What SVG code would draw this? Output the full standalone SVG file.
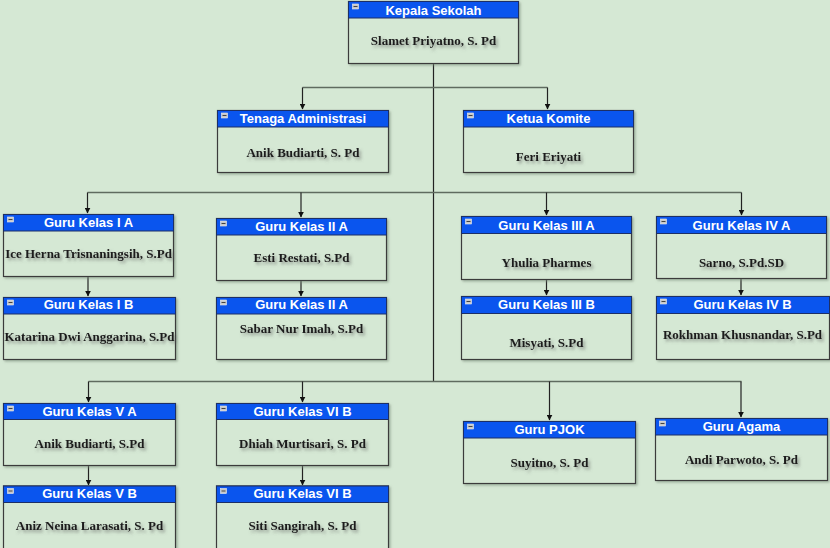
<svg xmlns="http://www.w3.org/2000/svg" width="830" height="548" viewBox="0 0 830 548">
<defs>
<style>
.box{fill:#d5e8d4;stroke:#3a3a3a;stroke-width:1.2;filter:url(#bs)}
.hd{fill:#0a55ee;stroke:#1c2f66;stroke-width:1}
.ic{fill:#c8c8c8;stroke:#eeeeee;stroke-width:0.6}
.icl{stroke:#444;stroke-width:1}
.t{font-family:"Liberation Sans",Arial,sans-serif;font-weight:bold;font-size:13px;fill:#ffffff;text-anchor:middle}
.b{font-family:"Liberation Serif","Times New Roman",serif;font-weight:bold;font-size:13px;fill:#1a1a1a;text-anchor:middle;filter:url(#ts)}
.bus{fill:none;stroke:#5f6b5f;stroke-width:1.3}
.ln{fill:none;stroke:#222;stroke-width:1.2}
.ar{fill:none;stroke:#222;stroke-width:1.2;marker-end:url(#arr)}
</style>
<marker id="arr" viewBox="0 0 10 10" refX="9" refY="5" markerWidth="6" markerHeight="6" markerUnits="userSpaceOnUse" orient="auto">
<path d="M0,0 L10,5 L0,10 z" fill="#111"/>
</marker>
<filter id="bs" x="-5%" y="-5%" width="115%" height="120%">
<feDropShadow dx="1.5" dy="1.5" stdDeviation="1" flood-color="#7a8a7a" flood-opacity="0.6"/>
</filter>
<filter id="ts" x="-10%" y="-40%" width="125%" height="190%">
<feDropShadow dx="2" dy="2.5" stdDeviation="1.5" flood-color="#555" flood-opacity="0.55"/>
</filter>
</defs>
<rect width="830" height="548" fill="#d5e8d4"/>

<g id="connectors">
<path class="ln" d="M433.5 63 V381.5"/>
<path class="bus" d="M302.5 87.5 H547.5"/>
<path class="ar" d="M302.5 87.5 V109"/>
<path class="ar" d="M547.5 87.5 V109"/>
<path class="bus" d="M87.5 192.5 H741.5"/>
<path class="ar" d="M87.5 192.5 V213"/>
<path class="ar" d="M301 192.5 V217"/>
<path class="ar" d="M546.5 192.5 V215"/>
<path class="ar" d="M741.5 192.5 V215"/>
<path class="bus" d="M88.5 381.5 H741.5"/>
<path class="ar" d="M88.5 381.5 V402"/>
<path class="ar" d="M302.5 381.5 V402"/>
<path class="ar" d="M549.5 381.5 V420"/>
<path class="ar" d="M741 381.5 V417"/>
<path class="ar" d="M88 276 V296"/>
<path class="ar" d="M301 280 V296"/>
<path class="ar" d="M546.5 279 V295"/>
<path class="ar" d="M741 278 V295"/>
<path class="ar" d="M88.5 465 V485"/>
<path class="ar" d="M302.5 465 V485"/>
</g>

<g id="kepala">
<rect class="box" x="348.5" y="1.5" width="170" height="62"/>
<rect class="hd" x="348.5" y="1.5" width="170" height="16.5"/>
<rect class="ic" x="352.5" y="4" width="6" height="5"/><path class="icl" d="M353.5 6.5 H357.5"/>
<text class="t" x="433.5" y="14.5">Kepala Sekolah</text>
<text class="b" x="433.5" y="44.5">Slamet Priyatno, S. Pd</text>
</g>

<g id="tenaga">
<rect class="box" x="217.5" y="110.5" width="171" height="62"/>
<rect class="hd" x="217.5" y="110.5" width="171" height="16.5"/>
<rect class="ic" x="221.5" y="113" width="6" height="5"/><path class="icl" d="M222.5 115.5 H226.5"/>
<text class="t" x="303" y="123">Tenaga Administrasi</text>
<text class="b" x="303" y="156.5">Anik Budiarti, S. Pd</text>
</g>

<g id="komite">
<rect class="box" x="463.5" y="110.5" width="170" height="62"/>
<rect class="hd" x="463.5" y="110.5" width="170" height="16.5"/>
<rect class="ic" x="467.5" y="113" width="6" height="5"/><path class="icl" d="M468.5 115.5 H472.5"/>
<text class="t" x="548.5" y="123">Ketua Komite</text>
<text class="b" x="548.5" y="160.5">Feri Eriyati</text>
</g>

<g id="kelas-1a">
<rect class="box" x="3.5" y="214.5" width="170" height="62"/>
<rect class="hd" x="3.5" y="214.5" width="170" height="16.5"/>
<rect class="ic" x="7.5" y="217" width="6" height="5"/><path class="icl" d="M8.5 219.5 H12.5"/>
<text class="t" x="88.5" y="227">Guru Kelas I A</text>
<text class="b" x="88.5" y="257.5">Ice Herna Trisnaningsih, S.Pd</text>
</g>

<g id="kelas-1b">
<rect class="box" x="3.5" y="297.5" width="172" height="62"/>
<rect class="hd" x="3.5" y="297.5" width="172" height="16.5"/>
<rect class="ic" x="7.5" y="300" width="6" height="5"/><path class="icl" d="M8.5 302.5 H12.5"/>
<text class="t" x="88.5" y="309">Guru Kelas I B</text>
<text class="b" x="89.5" y="340.5">Katarina Dwi Anggarina, S.Pd</text>
</g>

<g id="kelas-2a">
<rect class="box" x="216.5" y="218.5" width="170" height="62"/>
<rect class="hd" x="216.5" y="218.5" width="170" height="16.5"/>
<rect class="ic" x="220.5" y="221" width="6" height="5"/><path class="icl" d="M221.5 223.5 H225.5"/>
<text class="t" x="301.5" y="231">Guru Kelas II A</text>
<text class="b" x="301.5" y="261.5">Esti Restati, S.Pd</text>
</g>

<g id="kelas-2a-2">
<rect class="box" x="216.5" y="297.5" width="170" height="62"/>
<rect class="hd" x="216.5" y="297.5" width="170" height="16.5"/>
<rect class="ic" x="220.5" y="300" width="6" height="5"/><path class="icl" d="M221.5 302.5 H225.5"/>
<text class="t" x="301.5" y="309">Guru Kelas II A</text>
<text class="b" x="301.5" y="332.5">Sabar Nur Imah, S.Pd</text>
</g>

<g id="kelas-3a">
<rect class="box" x="461.5" y="216.5" width="170" height="63"/>
<rect class="hd" x="461.5" y="216.5" width="170" height="17"/>
<rect class="ic" x="465.5" y="219" width="6" height="5"/><path class="icl" d="M466.5 221.5 H470.5"/>
<text class="t" x="546.5" y="229.5">Guru Kelas III A</text>
<text class="b" x="546.5" y="266.5">Yhulia Pharmes</text>
</g>

<g id="kelas-3b">
<rect class="box" x="461.5" y="296.5" width="170" height="63"/>
<rect class="hd" x="461.5" y="296.5" width="170" height="17"/>
<rect class="ic" x="465.5" y="299" width="6" height="5"/><path class="icl" d="M466.5 301.5 H470.5"/>
<text class="t" x="546.5" y="309">Guru Kelas III B</text>
<text class="b" x="546.5" y="346.5">Misyati, S.Pd</text>
</g>

<g id="kelas-4a">
<rect class="box" x="656.5" y="216.5" width="170" height="62"/>
<rect class="hd" x="656.5" y="216.5" width="170" height="17"/>
<rect class="ic" x="660.5" y="219" width="6" height="5"/><path class="icl" d="M661.5 221.5 H665.5"/>
<text class="t" x="741.5" y="229.5">Guru Kelas IV A</text>
<text class="b" x="741.5" y="266.5">Sarno, S.Pd.SD</text>
</g>

<g id="kelas-4b">
<rect class="box" x="656.5" y="296.5" width="173" height="63"/>
<rect class="hd" x="656.5" y="296.5" width="173" height="17"/>
<rect class="ic" x="660.5" y="299" width="6" height="5"/><path class="icl" d="M661.5 301.5 H665.5"/>
<text class="t" x="742.5" y="309">Guru Kelas IV B</text>
<text class="b" x="742.5" y="338.5">Rokhman Khusnandar, S.Pd</text>
</g>

<g id="kelas-5a">
<rect class="box" x="3.5" y="403.5" width="172" height="62"/>
<rect class="hd" x="3.5" y="403.5" width="172" height="16"/>
<rect class="ic" x="7.5" y="406" width="6" height="5"/><path class="icl" d="M8.5 408.5 H12.5"/>
<text class="t" x="89.5" y="416">Guru Kelas V A</text>
<text class="b" x="89.5" y="447.5">Anik Budiarti, S.Pd</text>
</g>

<g id="kelas-5b">
<rect class="box" x="3.5" y="486" width="172" height="64"/>
<rect class="hd" x="3.5" y="486" width="172" height="16.5"/>
<rect class="ic" x="7.5" y="488.5" width="6" height="5"/><path class="icl" d="M8.5 491 H12.5"/>
<text class="t" x="89.5" y="498">Guru Kelas V B</text>
<text class="b" x="89.5" y="529.5">Aniz Neina Larasati, S. Pd</text>
</g>

<g id="kelas-6b">
<rect class="box" x="216.5" y="403.5" width="172" height="62"/>
<rect class="hd" x="216.5" y="403.5" width="172" height="16"/>
<rect class="ic" x="220.5" y="406" width="6" height="5"/><path class="icl" d="M221.5 408.5 H225.5"/>
<text class="t" x="302.5" y="416">Guru Kelas VI B</text>
<text class="b" x="302.5" y="447.5">Dhiah Murtisari, S. Pd</text>
</g>

<g id="kelas-6b-2">
<rect class="box" x="216.5" y="486" width="172" height="64"/>
<rect class="hd" x="216.5" y="486" width="172" height="16.5"/>
<rect class="ic" x="220.5" y="488.5" width="6" height="5"/><path class="icl" d="M221.5 491 H225.5"/>
<text class="t" x="302.5" y="498">Guru Kelas VI B</text>
<text class="b" x="302.5" y="529.5">Siti Sangirah, S. Pd</text>
</g>

<g id="pjok">
<rect class="box" x="463.5" y="421.5" width="172" height="62"/>
<rect class="hd" x="463.5" y="421.5" width="172" height="16.5"/>
<rect class="ic" x="467.5" y="424" width="6" height="5"/><path class="icl" d="M468.5 426.5 H472.5"/>
<text class="t" x="549.5" y="434">Guru PJOK</text>
<text class="b" x="549.5" y="466.5">Suyitno, S. Pd</text>
</g>

<g id="agama">
<rect class="box" x="655.5" y="418.5" width="172" height="62"/>
<rect class="hd" x="655.5" y="418.5" width="172" height="16.5"/>
<rect class="ic" x="659.5" y="421" width="6" height="5"/><path class="icl" d="M660.5 423.5 H664.5"/>
<text class="t" x="741.5" y="431">Guru Agama</text>
<text class="b" x="741.5" y="463.5">Andi Parwoto, S. Pd</text>
</g>
</svg>
